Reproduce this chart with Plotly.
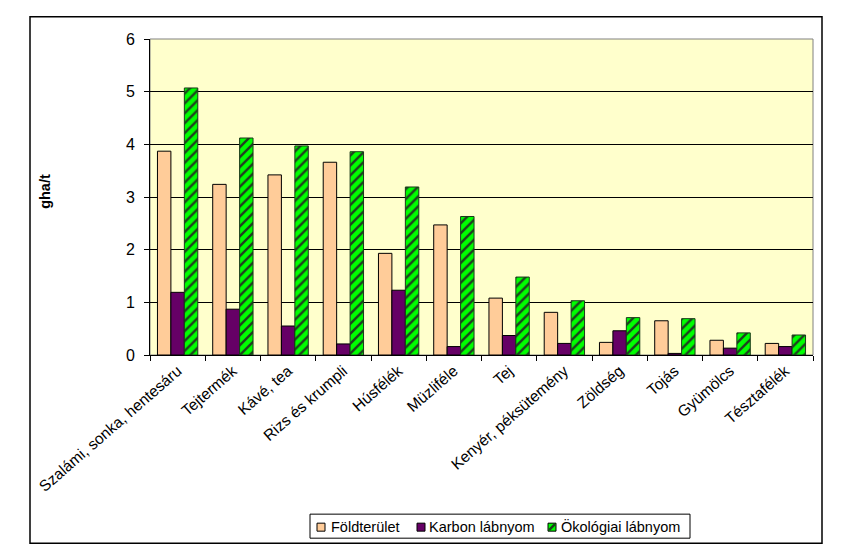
import plotly.graph_objects as go

categories = ["Szalámi, sonka, hentesáru", "Tejtermék", "Kávé, tea", "Rizs és krumpli",
              "Húsfélék", "Müzliféle", "Tej", "Kenyér, péksütemény", "Zöldség", "Tojás",
              "Gyümölcs", "Tésztafélék"]
foldterulet = [3.87, 3.24, 3.42, 3.66, 1.93, 2.47, 1.08, 0.81, 0.24, 0.65, 0.28, 0.22]
karbon = [1.19, 0.87, 0.55, 0.21, 1.23, 0.16, 0.37, 0.22, 0.46, 0.03, 0.13, 0.16]
okologiai = [5.07, 4.12, 3.97, 3.86, 3.19, 2.63, 1.48, 1.03, 0.71, 0.69, 0.42, 0.38]
series_names = ["Földterület", "Karbon lábnyom", "Ökológiai lábnyom"]
y_ticks = [0, 1, 2, 3, 4, 5, 6]

FONT = "Liberation Sans, Arial, sans-serif"
C_LAND, C_CARB, C_ECO, C_STRIPE = "#FFCC99", "#660066", "#00FF00", "#1f3f1f"

fig = go.Figure()
fig.add_trace(go.Bar(name=series_names[0], x=categories, y=foldterulet,
                     marker=dict(color=C_LAND, line=dict(color="black", width=1))))
fig.add_trace(go.Bar(name=series_names[1], x=categories, y=karbon,
                     marker=dict(color=C_CARB, line=dict(color="black", width=1))))
fig.add_trace(go.Bar(name=series_names[2], x=categories, y=okologiai,
                     marker=dict(color=C_ECO, line=dict(color="#1a3a1a", width=1),
                                 pattern=dict(shape="/", fgcolor=C_STRIPE, bgcolor=C_ECO,
                                              size=7, solidity=0.35, fillmode="replace"))))

L, R, T, B = 150, 813, 39.3, 355
W, H = R - L, B - T
def px(x): return (x - L) / W
def py(y): return (B - y) / H

shapes = [
    dict(type="rect", xref="paper", yref="paper", x0=0, x1=1, y0=0, y1=1,
         line=dict(color="#808080", width=1), layer="below"),
    dict(type="rect", xref="paper", yref="paper", x0=px(30), x1=px(822),
         y0=py(543), y1=py(17), line=dict(color="black", width=1.5)),
    # legend box
    dict(type="rect", xref="paper", yref="paper", x0=px(310), x1=px(690),
         y0=py(538), y1=py(514), line=dict(color="black", width=1), fillcolor="white"),
]
annotations = [
    dict(text="<b>gha/t</b>", xref="paper", yref="paper", x=px(45), y=py(192),
         textangle=-90, showarrow=False, font=dict(family=FONT, size=14.5),
         xanchor="center", yanchor="middle"),
]
legend_items = [(317, 329, C_LAND), (417, 427, C_CARB), (548, 559, C_ECO)]
for (sx, tx, col), name in zip(legend_items, series_names):
    shapes.append(dict(type="rect", xref="paper", yref="paper", x0=px(sx), x1=px(sx + 8),
                       y0=py(531), y1=py(523), fillcolor=col,
                       line=dict(color="black", width=1)))
    if col == C_ECO:
        shapes.append(dict(type="line", xref="paper", yref="paper", x0=px(sx + 1), x1=px(sx + 7),
                           y0=py(530), y1=py(524), line=dict(color=C_STRIPE, width=2.5)))
    annotations.append(dict(text=name, xref="paper", yref="paper", x=px(tx), y=py(526.5),
                            xanchor="left", yanchor="middle", showarrow=False,
                            font=dict(family=FONT, size=14.5)))

fig.update_layout(
    width=842, height=553,
    margin=dict(l=L, r=842 - R, t=T, b=553 - B, autoexpand=False),
    paper_bgcolor="white", plot_bgcolor="#FFFFCC",
    barmode="group", bargap=0.27, bargroupgap=0,
    font=dict(family=FONT, size=14, color="black"),
    showlegend=False,
    xaxis=dict(tickangle=-41, tickson="boundaries", ticks="outside", ticklen=5,
               tickcolor="black", showline=True, linecolor="black", linewidth=1,
               tickfont=dict(family=FONT, size=15.5), showgrid=False),
    yaxis=dict(range=[0, 6], tickvals=y_ticks, ticks="outside", ticklen=5,
               tickcolor="black", showline=True, linecolor="black", linewidth=1,
               showgrid=True, gridcolor="black", gridwidth=1, zeroline=False,
               tickfont=dict(family=FONT, size=16), ticklabelstandoff=6),
    shapes=shapes,
    annotations=annotations,
)

fig.write_html("out.html", config={"displayModeBar": False},
               post_script="document.body.style.margin='0';document.body.style.overflow='hidden';")
